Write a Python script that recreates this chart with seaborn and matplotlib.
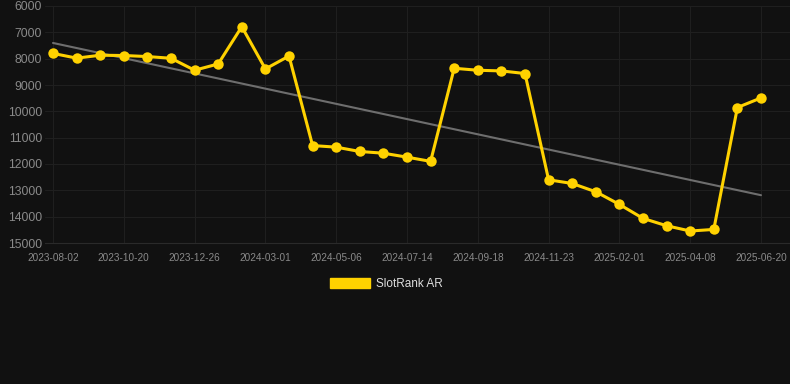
import numpy as np
import pandas as pd
import matplotlib
matplotlib.use('Agg')
import matplotlib.pyplot as plt
import matplotlib.patches as mpatches
import seaborn as sns

# ------------------------------
# Data
# ------------------------------
ranks = [7800, 7980, 7870, 7880, 7920, 7985, 8440, 8200, 6785, 8390,
         7900, 11300, 11360, 11525, 11590, 11740, 11900, 8365, 8440, 8465,
         8565, 12600, 12740, 13055, 13535, 14065, 14345, 14545, 14485, 9855,
         9490]
tick_labels = ['2023-08-02', '2023-10-20', '2023-12-26', '2024-03-01',
               '2024-05-06', '2024-07-14', '2024-09-18', '2024-11-23',
               '2025-02-01', '2025-04-08', '2025-06-20']
y_ticks = [6000, 7000, 8000, 9000, 10000, 11000, 12000, 13000, 14000, 15000]
series_name = 'SlotRank AR'

df = pd.DataFrame({'idx': np.arange(len(ranks)), 'rank': ranks})

# ------------------------------
# Style
# ------------------------------
bg = '#111111'
yellow = '#ffd200'
sns.set_style('dark')
plt.rcParams['font.family'] = ['Liberation Sans', 'DejaVu Sans']

fig = plt.figure(figsize=(7.9, 3.84), dpi=100, facecolor=bg)
ax = fig.add_axes([45 / 790, 1 - 243 / 384, 745 / 790, 237 / 384])
ax.set_facecolor(bg)

# trend line
sns.regplot(data=df, x='idx', y='rank', scatter=False, ci=None, ax=ax,
            line_kws={'color': '#6e6e6e', 'linewidth': 1.5, 'zorder': 2})

# main series
sns.lineplot(data=df, x='idx', y='rank', ax=ax, color=yellow, linewidth=2.2,
             marker='o', markersize=7.5, markeredgewidth=0, zorder=3)

ax.set_xlim(-0.339, 31.229)
ax.set_ylim(15000, 6000)
ax.set_yticks(y_ticks)
ax.set_yticklabels([str(v) for v in y_ticks])
ax.set_xticks(np.arange(0, len(ranks), 3))
ax.set_xticklabels(tick_labels)

ax.grid(True, color='#1f1f1f', linewidth=0.8)
ax.set_axisbelow(True)
for side in ['top', 'right', 'left']:
    ax.spines[side].set_visible(False)
ax.spines['bottom'].set_color('#2a2a2a')
ax.spines['bottom'].set_linewidth(0.8)

ax.tick_params(axis='y', length=0, pad=2, labelsize=8.8, labelcolor='#8a8a8a')
ax.tick_params(axis='x', length=4, width=0.8, color='#2a2a2a', pad=3,
               labelsize=7.2, labelcolor='#8a8a8a')
ax.set_xlabel('')
ax.set_ylabel('')

handle = mpatches.Patch(color=yellow, label=series_name)
leg = fig.legend(handles=[handle], loc='center',
                 bbox_to_anchor=(386.5 / 790, 1 - 284 / 384),
                 frameon=False, fontsize=8.5, handlelength=3.4,
                 handleheight=1.0, handletextpad=0.5)
for t in leg.get_texts():
    t.set_color('#dddddd')

plt.savefig('out.png', dpi=100, facecolor=bg)
